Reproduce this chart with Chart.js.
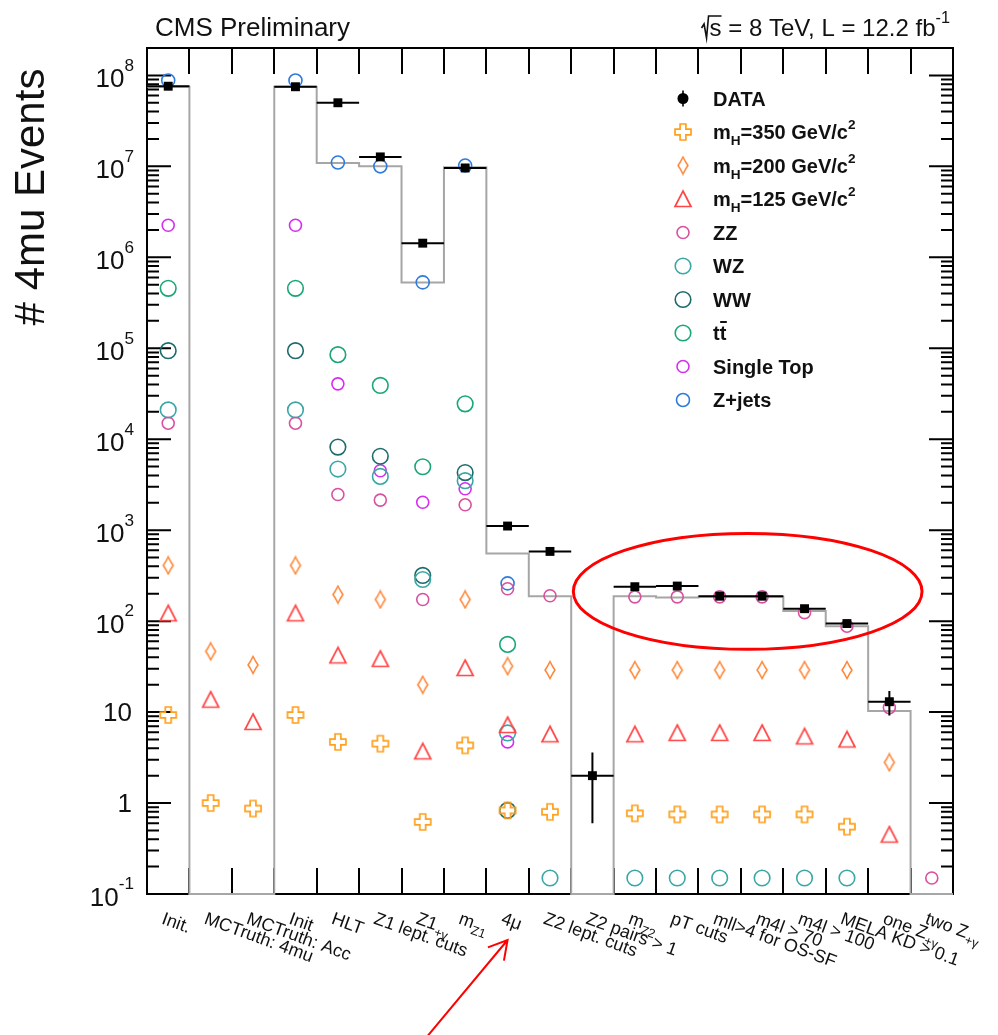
<!DOCTYPE html>
<html>
<head>
<meta charset="utf-8">
<title># 4mu Events</title>
<script src="https://cdn.jsdelivr.net/npm/chart.js@4.4.0/dist/chart.umd.min.js"></script>
<style>
  html, body { margin: 0; padding: 0; background: #fff; }
  canvas { display: block; }
</style>
</head>
<body>
<canvas id="cutflow" width="998" height="1035"></canvas>
<script>
// cut-flow bins (markup: _{..} subscript, ^{..} superscript)
const cuts = [
  'Init.', 'MCTruth: 4mu', 'MCTruth: Acc', 'Init', 'HLT', 'Z1 lept. cuts', 'Z1_{+γ}', 'm_{Z1}', '4μ',
  'Z2 lept. cuts', 'Z2 pairs > 1', 'm_{Z2}', 'pT cuts', 'mll>4 for OS-SF', 'm4l > 70', 'm4l > 100',
  'MELA KD > 0.1', 'one Z_{+γ}', 'two Z_{+γ}'
];

// observed events and their (asymmetric) errors
const dataCounts = [7.6e7, null, null, 7.5e7, 5.0e7, 1.27e7, 1.43e6, 9.6e6, 1110, 584, 2, 239, 243, 188, 188, 137, 94, 13, null];
const dataErrUp  = [null, null, null, null, null, null, null, null, null, null, 1.6, null, null, null, null, null, null, 4.1, null];
const dataErrDn  = [null, null, null, null, null, null, null, null, null, null, 1.4, null, null, null, null, null, null, 3.8, null];

// total expectation (grey histogram), 0 = empty bin
const mcTotal = [7.5e7, 0, 0, 7.5e7, 1.09e7, 1.0e7, 5.3e5, 9.8e6, 555, 188, 0, 188, 182, 185, 185, 129, 88, 10.3, 0];

// signal hypotheses
const mH350 = [9.3, 1.0, 0.87, 9.3, 4.7, 4.5, 0.62, 4.3, 0.83, 0.8, null, 0.77, 0.75, 0.75, 0.75, 0.75, 0.55, null, null];
const mH200 = [410, 46.5, 33, 410, 196, 173, 20, 173, 32, 29, null, 29, 29, 29, 29, 29, 29, 2.8, null];
const mH125 = [122, 13.7, 7.8, 122, 42, 38.5, 3.7, 30.5, 7.2, 5.7, null, 5.7, 5.9, 5.9, 5.9, 5.4, 5.0, 0.45, null];

// backgrounds
const zz        = [1.5e4, null, null, 1.5e4, 2470, 2140, 173, 1900, 227, 190, null, 185, 185, 185, 185, 124, 88, 11.2, 0.15];
const wz        = [2.1e4, null, null, 2.1e4, 4700, 3900, 287, 3500, 5.9, 0.15, null, 0.15, 0.15, 0.15, 0.15, 0.15, 0.15, null, null];
const ww        = [9.4e4, null, null, 9.4e4, 8200, 6500, 318, 4300, 0.83, null, null, null, null, null, null, null, null, null, null];
const ttbar     = [4.56e5, null, null, 4.56e5, 8.5e4, 3.9e4, 4980, 2.45e4, 55.5, null, null, null, null, null, null, null, null, null, null];
const singleTop = [2.25e6, null, null, 2.25e6, 4.06e4, 4500, 2030, 2850, 4.7, null, null, null, null, null, null, null, null, null, null];
const zjets     = [8.8e7, null, null, 8.8e7, 1.1e7, 1.0e7, 5.3e5, 1.02e7, 260, null, null, null, null, null, null, null, null, null, null];

const sampleNames = ['DATA', 'm_{H}=350 GeV/c^{2}', 'm_{H}=200 GeV/c^{2}', 'm_{H}=125 GeV/c^{2}',
  'ZZ', 'WZ', 'WW', 'tt̄', 'Single Top', 'Z+jets'];

// y axis decades that get a label
const yTickExps = [-1, 0, 1, 2, 3, 4, 5, 6, 7, 8];
const yMin = 0.1, yMax = 2e8;

const FONT = '"Liberation Sans", Arial, Helvetica, sans-serif';

// --- small rich text helper -------------------------------------------
function parseRich(str) {
  const out = [];
  const re = /([_^])\{([^}]*)\}/g;
  let last = 0, m;
  while ((m = re.exec(str))) {
    if (m.index > last) out.push({ t: str.slice(last, m.index), k: 0 });
    out.push({ t: m[2], k: m[1] === '_' ? -1 : 1 });
    last = re.lastIndex;
  }
  if (last < str.length) out.push({ t: str.slice(last), k: 0 });
  return out;
}
function richText(ctx, str, x, y, size, weight, opt, measureOnly) {
  const o = Object.assign({ sub: 0.3, sup: 0.45, small: 0.68 }, opt || {});
  let cx = x;
  for (const s of parseRich(str)) {
    const fs = s.k ? size * o.small : size;
    ctx.font = `${weight} ${fs}px ${FONT}`;
    const dy = s.k === -1 ? size * o.sub : s.k === 1 ? -size * o.sup : 0;
    if (!measureOnly) ctx.fillText(s.t, cx, y + dy);
    cx += ctx.measureText(s.t).width;
  }
  return cx - x;
}

// --- marker shapes ------------------------------------------------------
const colData = '#000000', colH350 = '#ffa01c', colH200 = '#ff8433', colH125 = '#ff4646';
const colZZ = '#d9519f', colWZ = '#3aa7a6', colWW = '#1d6b6b', colTT = '#1ba67a', colST = '#d62ef0', colZJ = '#2e7bdc';

function markerCanvas(w, h, draw) {
  const c = document.createElement('canvas');
  c.width = w; c.height = h;
  draw(c.getContext('2d'), w, h);
  return c;
}
const openCross = markerCanvas(20, 20, (g) => {
  const s = 8, a = 2.9;
  g.translate(10, 10);
  g.beginPath();
  g.moveTo(-a, -s); g.lineTo(a, -s); g.lineTo(a, -a); g.lineTo(s, -a); g.lineTo(s, a); g.lineTo(a, a);
  g.lineTo(a, s); g.lineTo(-a, s); g.lineTo(-a, a); g.lineTo(-s, a); g.lineTo(-s, -a); g.lineTo(-a, -a);
  g.closePath();
  g.strokeStyle = colH350; g.lineWidth = 1.7; g.stroke();
});
const openDiamond = markerCanvas(14, 20, (g) => {
  g.beginPath();
  g.moveTo(7, 1.5); g.lineTo(10, 7); g.lineTo(12, 10); g.lineTo(10, 13);
  g.lineTo(7, 18.5); g.lineTo(4, 13); g.lineTo(2, 10); g.lineTo(4, 7);
  g.closePath();
  g.strokeStyle = colH200; g.lineWidth = 1.5; g.stroke();
});
const openTriangle = markerCanvas(20, 20, (g) => {
  g.beginPath();
  g.moveTo(10, 2); g.lineTo(18, 17.5); g.lineTo(2, 17.5);
  g.closePath();
  g.strokeStyle = colH125; g.lineWidth = 1.7; g.stroke();
});

const pts = (arr) => arr.map((v, i) => (v == null ? null : { x: i + 0.5, y: v })).filter(Boolean);

// grey step histogram drawn through the bin edges
const mcSteps = [];
mcTotal.forEach((v, i) => {
  const y = v > 0 ? v : yMin;
  mcSteps.push({ x: i, y: y }, { x: i + 1, y: y });
});

function circleSet(label, arr, color, r) {
  return {
    label, data: pts(arr), pointStyle: 'circle', pointRadius: r,
    pointBorderWidth: 1.6, borderColor: color, backgroundColor: 'rgba(0,0,0,0)'
  };
}

const datasets = [
  { label: 'DATA', data: pts(dataCounts), pointStyle: 'rect', pointRadius: 6.3, pointBorderWidth: 0,
    backgroundColor: colData, borderColor: colData },
  { label: sampleNames[1], data: pts(mH350), pointStyle: openCross, pointRadius: 8, borderColor: colH350 },
  { label: sampleNames[2], data: pts(mH200), pointStyle: openDiamond, pointRadius: 8, borderColor: colH200 },
  { label: sampleNames[3], data: pts(mH125), pointStyle: openTriangle, pointRadius: 8, borderColor: colH125 },
  circleSet(sampleNames[4], zz, colZZ, 6),
  circleSet(sampleNames[5], wz, colWZ, 7.8),
  circleSet(sampleNames[6], ww, colWW, 7.8),
  circleSet(sampleNames[7], ttbar, colTT, 7.8),
  circleSet(sampleNames[8], singleTop, colST, 6),
  circleSet(sampleNames[9], zjets, colZJ, 6.5),
  { type: 'line', label: 'MC', data: mcSteps, borderColor: '#a6a6a6', borderWidth: 2,
    pointRadius: 0, fill: false, tension: 0, clip: 4 }
];

// frame, ticks and axis labels in the ROOT style
const frame = {
  id: 'frame',
  beforeDatasetsDraw(chart) {
    const { ctx, chartArea: a, scales: { x, y } } = chart;
    ctx.save();
    ctx.strokeStyle = '#000';
    ctx.lineWidth = 2;
    ctx.strokeRect(a.left, a.top, a.right - a.left, a.bottom - a.top);
    ctx.beginPath();
    for (let i = 1; i < cuts.length; i++) {
      const px = Math.round(x.getPixelForValue(i));
      ctx.moveTo(px, a.bottom); ctx.lineTo(px, a.bottom - 26);
      ctx.moveTo(px, a.top); ctx.lineTo(px, a.top + 26);
    }
    for (let e = -1; e <= 8; e++) {
      for (let m = 1; m <= 9; m++) {
        const v = m * Math.pow(10, e);
        if (v < yMin * 0.999 || v > yMax * 1.001) continue;
        const py = y.getPixelForValue(v);
        const len = m === 1 ? 24 : 12;
        ctx.moveTo(a.left, py); ctx.lineTo(a.left + len, py);
        ctx.moveTo(a.right, py); ctx.lineTo(a.right - len, py);
      }
    }
    ctx.stroke();

    // y tick labels
    ctx.fillStyle = '#111';
    ctx.textAlign = 'left';
    ctx.textBaseline = 'alphabetic';
    for (const e of yTickExps) {
      const py = y.getPixelForValue(Math.pow(10, e));
      const txt = e === 0 ? '1' : e === 1 ? '10' : '10^{' + e + '}';
      const opt = { sup: 0.64, small: 0.66 };
      const w = richText(ctx, txt, 0, 0, 26, 'normal', opt, true);
      const right = (e === 0 || e === 1) ? 132 : 134;
      const base = (e === 0 || e === 1) ? py + 9 : py + 12;
      richText(ctx, txt, right - w, base, 26, 'normal', opt);
    }

    // rotated bin labels
    cuts.forEach((lab, i) => {
      const px = x.getPixelForValue(i + 0.5);
      ctx.save();
      ctx.translate(px - 3, a.bottom + 17);
      ctx.rotate(20 * Math.PI / 180);
      richText(ctx, lab, 0, 13, 18, 'normal', { sub: 0.3, small: 0.7 });
      ctx.restore();
    });
    ctx.restore();
  },
  afterDatasetsDraw(chart) {
    const { ctx, scales: { x, y } } = chart;
    ctx.save();
    ctx.strokeStyle = colData;
    ctx.lineWidth = 2;
    ctx.beginPath();
    dataCounts.forEach((v, i) => {
      if (v == null) return;
      const py = y.getPixelForValue(v);
      ctx.moveTo(x.getPixelForValue(i), py);
      ctx.lineTo(x.getPixelForValue(i + 1), py);
      if (dataErrUp[i] != null) {
        const pc = x.getPixelForValue(i + 0.5);
        ctx.moveTo(pc, y.getPixelForValue(v + dataErrUp[i]));
        ctx.lineTo(pc, y.getPixelForValue(v - dataErrDn[i]));
      }
    });
    ctx.stroke();
    ctx.restore();
  },
  afterDraw(chart) {
    const { ctx, chartArea: a, scales: { x, y } } = chart;
    ctx.save();
    ctx.fillStyle = '#111';
    ctx.textBaseline = 'alphabetic';

    // header
    ctx.font = `normal 26px ${FONT}`;
    ctx.textAlign = 'left';
    ctx.fillText('CMS Preliminary', 155, 36);

    const head = ' = 8 TeV, L = 12.2 fb^{-1}';
    const hs = 24;
    ctx.font = `normal ${hs}px ${FONT}`;
    const sW = ctx.measureText('s').width;
    const rest = richText(ctx, head, 0, 0, hs, 'normal', { sup: 0.55 }, true);
    const x0 = 950 - rest - sW - 8;
    ctx.strokeStyle = '#111';
    ctx.lineWidth = 1.6;
    ctx.beginPath();
    ctx.moveTo(x0, 28); ctx.lineTo(x0 + 2.5, 24); ctx.lineTo(x0 + 5, 38);
    ctx.lineTo(x0 + 7, 16); ctx.lineTo(x0 + 8 + sW, 16);
    ctx.stroke();
    ctx.font = `normal ${hs}px ${FONT}`;
    ctx.fillText('s', x0 + 8, 36);
    richText(ctx, head, x0 + 8 + sW, 36, hs, 'normal', { sup: 0.55 });

    // y title
    ctx.save();
    ctx.translate(44, 197);
    ctx.rotate(-Math.PI / 2);
    ctx.textAlign = 'center';
    ctx.font = `normal 42px ${FONT}`;
    ctx.fillText('# 4mu Events', 0, 0);
    ctx.restore();

    // legend
    const ds = chart.data.datasets;
    for (let k = 0; k < sampleNames.length; k++) {
      const d = ds[k];
      const ly = 98.5 + k * 33.5;
      const lx = 683;
      if (k === 0) {
        ctx.fillStyle = colData;
        ctx.beginPath(); ctx.arc(lx, ly, 5.5, 0, Math.PI * 2); ctx.fill();
        ctx.fillRect(lx - 0.8, ly - 8, 1.6, 16);
      } else if (d.pointStyle === 'circle') {
        ctx.strokeStyle = d.borderColor;
        ctx.lineWidth = 1.6;
        ctx.beginPath(); ctx.arc(lx, ly, d.pointRadius, 0, Math.PI * 2); ctx.stroke();
      } else {
        const img = d.pointStyle;
        ctx.drawImage(img, lx - img.width / 2, ly - img.height / 2);
      }
      ctx.fillStyle = '#111';
      ctx.textAlign = 'left';
      const name = sampleNames[k];
      if (name === 'tt̄') {
        ctx.font = `bold 20px ${FONT}`;
        const tw = ctx.measureText('t').width;
        ctx.fillText('tt', 713, ly + 7);
        ctx.fillRect(713 + tw + 0.5, ly - 12, tw, 2);
      } else {
        richText(ctx, name, 713, ly + 7, 20, 'bold', { sub: 0.3, sup: 0.48, small: 0.68 });
      }
    }

    // highlighted region on the final selection steps
    const ringCenterX = 14.16, ringHalfWidth = 4.11, ringTop = 920, ringBottom = 49;
    const cx = x.getPixelForValue(ringCenterX);
    const rx = x.getPixelForValue(ringCenterX + ringHalfWidth) - cx;
    const yT = y.getPixelForValue(ringTop), yB = y.getPixelForValue(ringBottom);
    ctx.strokeStyle = '#ff0000';
    ctx.lineWidth = 3;
    ctx.beginPath();
    ctx.ellipse(cx, (yT + yB) / 2, rx, (yB - yT) / 2, 0, 0, Math.PI * 2);
    ctx.stroke();

    // pointer to the 4mu step
    const tipX = x.getPixelForValue(8.5), tipY = a.bottom + 46;
    const tailX = tipX - 80, tailY = tipY + 96;
    const ang = Math.atan2(tailY - tipY, tailX - tipX);
    ctx.lineWidth = 2;
    ctx.beginPath();
    ctx.moveTo(tailX, tailY); ctx.lineTo(tipX, tipY);
    ctx.moveTo(tipX + 21 * Math.cos(ang + 0.52), tipY + 21 * Math.sin(ang + 0.52));
    ctx.lineTo(tipX, tipY);
    ctx.lineTo(tipX + 21 * Math.cos(ang - 0.52), tipY + 21 * Math.sin(ang - 0.52));
    ctx.stroke();
    ctx.restore();
  }
};

new Chart(document.getElementById('cutflow'), {
  type: 'scatter',
  data: { datasets },
  options: {
    responsive: false,
    animation: false,
    layout: { padding: { left: 147, right: 45, top: 48, bottom: 141 } },
    scales: {
      x: { type: 'linear', min: 0, max: cuts.length, display: false },
      y: { type: 'logarithmic', min: yMin, max: yMax, display: false }
    },
    plugins: { legend: { display: false }, tooltip: { enabled: false } }
  },
  plugins: [frame]
});
</script>
</body>
</html>
